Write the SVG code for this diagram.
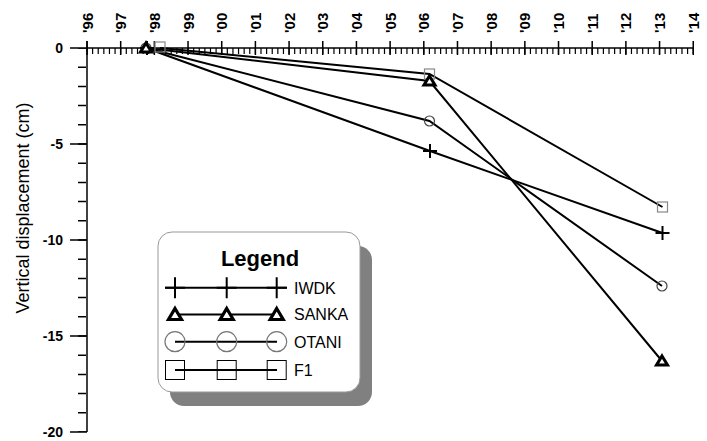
<svg xmlns="http://www.w3.org/2000/svg" xmlns:xlink="http://www.w3.org/1999/xlink" width="707" height="441" viewBox="0 0 707 441">
<style>
.ax{stroke:#000;stroke-width:1.5;fill:none}
.tl{font-family:"Liberation Sans",Arial,sans-serif;font-weight:bold;font-size:15px;fill:#000}
.yl{font-family:"Liberation Sans",Arial,sans-serif;font-weight:bold;font-size:14px;fill:#000;text-anchor:end}
.lab{font-family:"Liberation Sans",Arial,sans-serif;font-size:18px;fill:#000;text-anchor:middle}
.lt{font-family:"Liberation Sans",Arial,sans-serif;font-size:16px;fill:#000}
.ltitle{font-family:"Liberation Sans",Arial,sans-serif;font-weight:bold;font-size:22px;fill:#000;text-anchor:middle}
.ser{stroke:#000;stroke-width:2;fill:none}
</style>
<defs>
<path id="pc" d="M-7 0H7M0-7V7" stroke="#000" stroke-width="2" fill="none"/>
<polygon id="pt" points="0,-5 5.5,4 -5.5,4" stroke="#000" stroke-width="3" fill="#fff"/>
<circle id="po" r="5" stroke="#444" stroke-width="1.2" fill="none"/>
<rect id="ps" x="-5" y="-5" width="10" height="10" stroke="#888" stroke-width="1.2" fill="none"/>
<path id="lc" d="M-10 0H10M0-10.5V10.5" stroke="#000" stroke-width="2" fill="none"/>
<polygon id="ltri" points="0,-6 6.5,5 -6.5,5" stroke="#000" stroke-width="3.2" fill="#fff"/>
<circle id="lo" r="10" stroke="#777" stroke-width="1.2" fill="none"/>
<rect id="ls" x="-9.5" y="-9.5" width="19" height="19" stroke="#000" stroke-width="1" fill="none"/>
</defs>
<rect width="707" height="441" fill="#fff"/>
<g id="axes">
<line class="ax" x1="87" y1="48" x2="693.3" y2="48"/>
<line class="ax" x1="87" y1="41" x2="87" y2="432"/>
<line x1="87" y1="51" x2="693.3" y2="51" stroke="#000" stroke-width="6" stroke-dasharray="1.2 4.413" stroke-dashoffset="0.6"/>
<line x1="82" y1="48" x2="82" y2="432" stroke="#000" stroke-width="8" stroke-dasharray="1.5 17.7" stroke-dashoffset="0.75"/>
<path class="ax" d="M87 41V55M120.68 41V55M154.36 41V55M188.04 41V55M221.72 41V55M255.4 41V55M289.08 41V55M322.76 41V55M356.44 41V55M390.12 41V55M423.8 41V55M457.48 41V55M491.16 41V55M524.84 41V55M558.52 41V55M592.2 41V55M625.88 41V55M659.56 41V55M693.24 41V55"/>
<path class="ax" d="M70 48H87M70 144H87M70 240H87M70 336H87M70 432H87"/>
<text class="tl" x="92.5" y="33" transform="rotate(-90 92.5 33)">'96</text>
<text class="tl" x="126.18" y="33" transform="rotate(-90 126.18 33)">'97</text>
<text class="tl" x="159.86" y="33" transform="rotate(-90 159.86 33)">'98</text>
<text class="tl" x="193.54" y="33" transform="rotate(-90 193.54 33)">'99</text>
<text class="tl" x="227.22" y="33" transform="rotate(-90 227.22 33)">'00</text>
<text class="tl" x="260.9" y="33" transform="rotate(-90 260.9 33)">'01</text>
<text class="tl" x="294.58" y="33" transform="rotate(-90 294.58 33)">'02</text>
<text class="tl" x="328.26" y="33" transform="rotate(-90 328.26 33)">'03</text>
<text class="tl" x="361.94" y="33" transform="rotate(-90 361.94 33)">'04</text>
<text class="tl" x="395.62" y="33" transform="rotate(-90 395.62 33)">'05</text>
<text class="tl" x="429.3" y="33" transform="rotate(-90 429.3 33)">'06</text>
<text class="tl" x="462.98" y="33" transform="rotate(-90 462.98 33)">'07</text>
<text class="tl" x="496.66" y="33" transform="rotate(-90 496.66 33)">'08</text>
<text class="tl" x="530.34" y="33" transform="rotate(-90 530.34 33)">'09</text>
<text class="tl" x="564.02" y="33" transform="rotate(-90 564.02 33)">'10</text>
<text class="tl" x="597.7" y="33" transform="rotate(-90 597.7 33)">'11</text>
<text class="tl" x="631.38" y="33" transform="rotate(-90 631.38 33)">'12</text>
<text class="tl" x="665.06" y="33" transform="rotate(-90 665.06 33)">'13</text>
<text class="tl" x="698.74" y="33" transform="rotate(-90 698.74 33)">'14</text>
<text class="yl" x="63" y="53">0</text>
<text class="yl" x="63" y="149">-5</text>
<text class="yl" x="63" y="245">-10</text>
<text class="yl" x="63" y="341">-15</text>
<text class="yl" x="63" y="437">-20</text>
<text class="lab" x="29" y="208" transform="rotate(-90 29 208)">Vertical displacement (cm)</text>
</g>
<g id="connectors">
<polyline class="ser" points="146,48 430,151 662.5,233"/>
<polyline class="ser" points="146,48 429.5,81 662,361"/>
<polyline class="ser" points="146,48 429.5,121 662,286"/>
<polyline class="ser" points="160,48 429.5,74 662.5,207"/>
</g>
<g id="series-F1">
<use xlink:href="#ps" x="160" y="47"/>
<use xlink:href="#ps" x="429.5" y="74"/>
<use xlink:href="#ps" x="662.5" y="207"/>
</g>
<g id="series-OTANI">
<use xlink:href="#po" x="146" y="48"/>
<use xlink:href="#po" x="429.5" y="121"/>
<use xlink:href="#po" x="662" y="286"/>
</g>
<g id="series-IWDK">
<use xlink:href="#pc" x="147" y="48"/>
<use xlink:href="#pc" x="430" y="151"/>
<use xlink:href="#pc" x="662.5" y="233"/>
</g>
<g id="series-SANKA">
<use xlink:href="#pt" x="146" y="48"/>
<use xlink:href="#pt" x="429.5" y="81"/>
<use xlink:href="#pt" x="662" y="361"/>
</g>
<g id="legend">
<rect x="170" y="246" width="202" height="160" rx="14" fill="#808080"/>
<rect x="158" y="232" width="202" height="160" rx="14" fill="#fff" stroke="#999" stroke-width="1"/>
<text class="ltitle" x="260" y="266">Legend</text>
<line class="ser" x1="165" y1="287.7" x2="287" y2="287.7"/>
<use xlink:href="#lc" x="175" y="287.7"/>
<use xlink:href="#lc" x="226.7" y="287.7"/>
<use xlink:href="#lc" x="276.7" y="287.7"/>
<text class="lt" x="294" y="293.5">IWDK</text>
<line class="ser" x1="175" y1="314.5" x2="277" y2="314.5"/>
<use xlink:href="#ltri" x="175" y="314.5"/>
<use xlink:href="#ltri" x="226.7" y="314.5"/>
<use xlink:href="#ltri" x="276.7" y="314.5"/>
<text class="lt" x="294" y="320.3">SANKA</text>
<line class="ser" x1="175" y1="341.7" x2="277" y2="341.7"/>
<use xlink:href="#lo" x="175" y="341.7"/>
<use xlink:href="#lo" x="226.7" y="341.7"/>
<use xlink:href="#lo" x="276.7" y="341.7"/>
<text class="lt" x="294" y="347.5">OTANI</text>
<line class="ser" x1="175" y1="370" x2="277" y2="370"/>
<use xlink:href="#ls" x="175" y="370"/>
<use xlink:href="#ls" x="226.7" y="370"/>
<use xlink:href="#ls" x="276.7" y="370"/>
<text class="lt" x="294" y="375.8">F1</text>
</g>
</svg>
